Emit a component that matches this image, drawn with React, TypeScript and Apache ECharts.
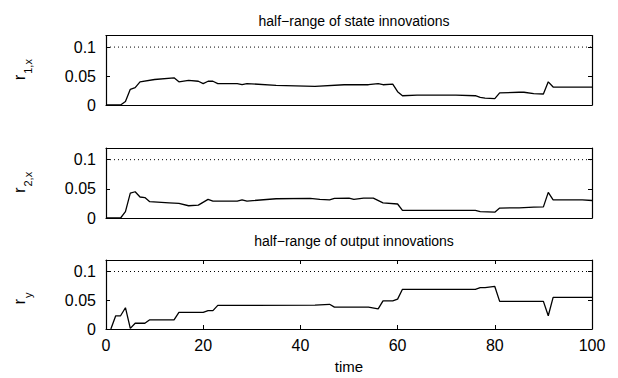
import React, { useEffect, useRef } from "react";
import * as echarts from "echarts";

const T1 = [0, 3, 4, 5, 6, 7, 10, 14, 15, 17, 19, 20, 21, 22, 23, 27, 28, 29, 35, 43, 49, 54, 56, 57, 59, 60, 61, 64, 72, 76, 77, 78, 80, 81, 85, 86, 88, 90, 91, 92, 100];
const V1 = [0, 0, 0.006, 0.027, 0.03, 0.04, 0.044, 0.047, 0.04, 0.0425, 0.041, 0.037, 0.041, 0.041, 0.037, 0.037, 0.035, 0.037, 0.034, 0.032, 0.035, 0.035, 0.037, 0.035, 0.036, 0.023, 0.016, 0.017, 0.017, 0.016, 0.013, 0.012, 0.011, 0.021, 0.022, 0.022, 0.0195, 0.019, 0.04, 0.031, 0.031];

const T2 = [0, 3, 4, 5, 6, 7, 8, 9, 13, 15, 17, 19, 21, 22, 27, 28, 29, 35, 42, 44, 46, 47, 50, 51, 53, 55, 57, 60, 61, 67, 76, 77, 80, 81, 85, 88, 90, 91, 92, 98, 100];
const V2 = [0, 0, 0.011, 0.0425, 0.045, 0.036, 0.035, 0.028, 0.026, 0.025, 0.021, 0.022, 0.032, 0.029, 0.029, 0.031, 0.029, 0.033, 0.0335, 0.032, 0.031, 0.0335, 0.034, 0.032, 0.034, 0.034, 0.026, 0.024, 0.013, 0.013, 0.013, 0.011, 0.01, 0.017, 0.0175, 0.0185, 0.019, 0.044, 0.031, 0.031, 0.03];

const T3 = [1, 2, 3, 4, 5, 6, 8, 9, 14, 15, 20, 21, 22, 23, 43, 46, 47, 54, 56, 57, 59, 60, 61, 76, 77, 78, 80, 81, 90, 91, 92, 100];
const V3 = [0, 0.023, 0.023, 0.037, 0.001, 0.01, 0.01, 0.016, 0.016, 0.029, 0.029, 0.032, 0.032, 0.041, 0.0415, 0.043, 0.038, 0.038, 0.035, 0.049, 0.049, 0.052, 0.069, 0.069, 0.072, 0.072, 0.074, 0.048, 0.048, 0.023, 0.055, 0.055];

const THRESHOLD = 0.1;
const X_RANGE = [0, 100];
const Y_RANGE = [0, 0.12];
const Y_STEP = 0.05;
const X_STEP = 20;

const TITLES = ["half\u2212range of state innovations", "half\u2212range of output innovations"];
const Y_NAMES = [["r", "1,x"], ["r", "2,x"], ["r", "y"]];
const X_NAME = "time";

const FONT = "'Liberation Sans', Arial, Helvetica, sans-serif";

export default function App() {
  const ref = useRef<HTMLDivElement>(null);
  useEffect(() => {
    if (!ref.current) return;
    const chart = echarts.init(ref.current, undefined, { renderer: "svg" });
    const grids = [
      { left: 106, right: 26, top: 35.5, height: 69.5 },
      { left: 106, right: 26, top: 148, height: 70 },
      { left: 106, right: 26, top: 260, height: 69 },
    ];
    const xAxis: any[] = [];
    const yAxis: any[] = [];
    const series: any[] = [];
    const dataSets = [
      [T1, V1],
      [T2, V2],
      [T3, V3],
    ];
    const axisLine = { show: true, onZero: false, lineStyle: { color: "#000", width: 1.2 } };
    grids.forEach((g, i) => {
      const last = i === 2;
      xAxis.push({
        type: "value",
        gridIndex: i,
        min: X_RANGE[0],
        max: X_RANGE[1],
        interval: X_STEP,
        position: "bottom",
        axisLine,
        axisTick: { show: last, inside: true, length: 4, lineStyle: { color: "#000" } },
        axisLabel: { show: last, color: "#000", fontSize: 16, fontFamily: FONT, margin: 8 },
        splitLine: { show: false },
        name: last ? X_NAME : "",
        nameLocation: "middle",
        nameGap: 30,
        nameTextStyle: { color: "#000", fontSize: 15, fontFamily: FONT },
      });
      xAxis.push({
        type: "value",
        gridIndex: i,
        min: X_RANGE[0],
        max: X_RANGE[1],
        interval: X_STEP,
        position: "top",
        axisLine,
        axisTick: { show: last, inside: true, length: 4, lineStyle: { color: "#000" } },
        axisLabel: { show: false },
        splitLine: { show: false },
      });
      yAxis.push({
        type: "value",
        gridIndex: i,
        min: Y_RANGE[0],
        max: Y_RANGE[1],
        interval: Y_STEP,
        position: "left",
        axisLine,
        axisTick: { show: true, inside: true, length: 4, lineStyle: { color: "#000" } },
        axisLabel: { show: true, color: "#000", fontSize: 16, fontFamily: FONT, margin: 10, showMaxLabel: false },
        splitLine: { show: false },
      });
      yAxis.push({
        type: "value",
        gridIndex: i,
        min: Y_RANGE[0],
        max: Y_RANGE[1],
        interval: Y_STEP,
        position: "right",
        axisLine,
        axisTick: { show: true, inside: true, length: 4, lineStyle: { color: "#000" } },
        axisLabel: { show: false },
        splitLine: { show: false },
      });
      const [ts, vs] = dataSets[i];
      series.push({
        type: "line",
        xAxisIndex: i * 2,
        yAxisIndex: i * 2,
        data: ts.map((t, k) => [t, vs[k]]),
        symbol: "none",
        lineStyle: { color: "#000", width: 1.3 },
        silent: true,
      });
      series.push({
        type: "line",
        xAxisIndex: i * 2,
        yAxisIndex: i * 2,
        data: [
          [X_RANGE[0], THRESHOLD],
          [X_RANGE[1], THRESHOLD],
        ],
        symbol: "none",
        lineStyle: { color: "#000", width: 1, type: [1, 3] },
        silent: true,
      });
    });

    const centers = grids.map((g) => g.top + g.height / 2);
    const graphic: any[] = Y_NAMES.map((nm, i) => ({
      type: "group",
      x: 28,
      y: centers[i] + 10,
      rotation: Math.PI / 2,
      children: [
        {
          type: "text",
          x: 0,
          y: 0,
          style: { text: nm[0], fontSize: 17, fontFamily: FONT, fill: "#000", textAlign: "left", textVerticalAlign: "bottom" },
        },
        {
          type: "text",
          x: 6.5,
          y: 5,
          style: { text: nm[1], fontSize: 11, fontFamily: FONT, fill: "#000", textAlign: "left", textVerticalAlign: "bottom" },
        },
      ],
    }));

    chart.setOption({
      animation: false,
      backgroundColor: "#fff",
      title: [
        { text: TITLES[0], left: 349, top: 9, textAlign: "center", textStyle: { fontSize: 14, fontWeight: "normal", color: "#000", fontFamily: FONT } },
        { text: TITLES[1], left: 349, top: 229, textAlign: "center", textStyle: { fontSize: 14, fontWeight: "normal", color: "#000", fontFamily: FONT } },
      ],
      grid: grids,
      xAxis,
      yAxis,
      series,
      graphic,
    });
    return () => chart.dispose();
  }, []);
  return <div ref={ref} style={{ position: "fixed", left: 0, top: 0, width: 618, height: 378 }} />;
}
